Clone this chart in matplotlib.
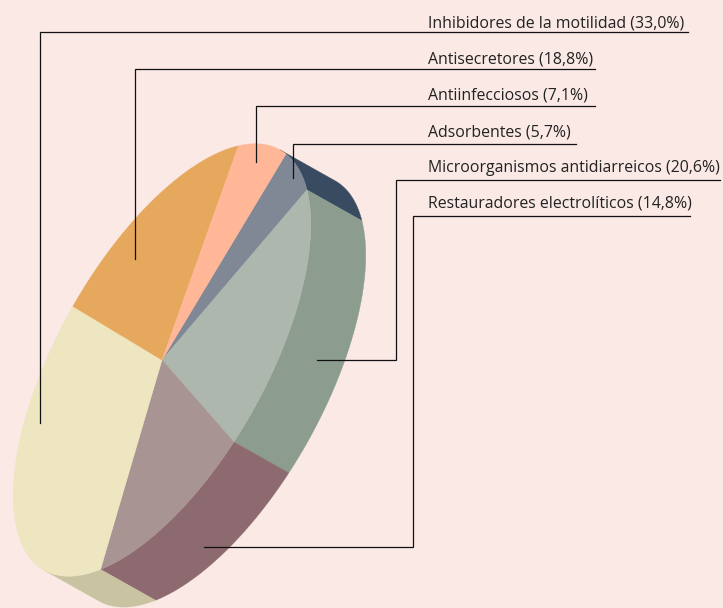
#! /usr/bin/env python3

import matplotlib
matplotlib.use('Agg')
import matplotlib.pyplot as plt
import numpy as np

# clockwise from the top of the disc
labels = ['Adsorbentes', 'Microorganismos antidiarreicos', 'Restauradores electrolíticos',
          'Inhibidores de la motilidad', 'Antisecretores', 'Antiinfecciosos']
values = [5.7, 20.6, 14.8, 33.0, 18.8, 7.1]

top_colors = ['#808896', '#adb7ae', '#a99494', '#eee5c1', '#e5a85c', '#ffb798']
side_colors = ['#384b60', '#8c9c8f', '#8c6a70', '#c9c3a1', '#e5a85c', '#ffb798']

# order of the labels from top to bottom
label_order = [3, 4, 5, 0, 1, 2]
label_base = [27.5, 63, 99, 136.5, 172, 207.5]
line_y = [32, 69, 106, 144, 180, 216]
line_end = [688, 595, 595, 576, 720, 690]
# leader: x of the vertical, y where it stops, x of the last horizontal piece
lead_x = [40, 135, 256, 293, 396, 413]
lead_y = [423, 259, 162, 178, 360, 547]
lead_tail = [None, None, None, None, 317, 204]

BG = '#fae9e5'
CENTER = np.array([162.0, 360.0])
SEMI_A = 241.0
SEMI_B = 104.0
TILT = np.radians(60.7)
U = np.array([np.cos(TILT), -np.sin(TILT)])
V = np.array([np.sin(TILT), np.cos(TILT)])
DEPTH = 63.0
START = np.radians(4.0)


def disc(theta, shift=0.0):
    theta = np.asarray(theta)[:, None]
    return CENTER + SEMI_A * np.cos(theta) * U + (SEMI_B * np.sin(theta) + shift) * V


def main():
    fig = plt.figure(figsize=(7.23, 6.08), dpi=100, facecolor=BG)
    ax = fig.add_axes([0, 0, 1, 1])
    ax.set_xlim(0, 723)
    ax.set_ylim(608, 0)
    ax.axis('off')

    edges = np.concatenate([[0], np.cumsum(values)]) / sum(values) * 2 * np.pi + START

    # side wall, only the half turned to the viewer shows
    for i in range(len(values)):
        lo = 0 if i == 0 else edges[i]
        hi = min(edges[i + 1], np.pi)
        if hi <= lo:
            continue
        t = np.linspace(lo, hi, 80)
        pts = np.vstack([disc(t), disc(t[::-1], DEPTH)])
        ax.fill(pts[:, 0], pts[:, 1], color=side_colors[i], lw=0.3, zorder=2)

    for i in range(len(values)):
        t = np.linspace(edges[i], edges[i + 1], 120)
        pts = np.vstack([CENTER, disc(t)])
        ax.fill(pts[:, 0], pts[:, 1], color=top_colors[i], lw=0.3, zorder=3)

    for n, i in enumerate(label_order):
        text = '%s (%s%%)' % (labels[i], ('%.1f' % values[i]).replace('.', ','))
        ax.text(428, label_base[n], text, fontsize=11.4, family='Open Sans',
                color='#222222', va='baseline', ha='left', zorder=5)
        xs = [line_end[n], lead_x[n], lead_x[n]]
        ys = [line_y[n], line_y[n], lead_y[n]]
        if lead_tail[n] is not None:
            xs.append(lead_tail[n])
            ys.append(lead_y[n])
        ax.plot(xs, ys, color='#111111', lw=0.9, solid_joinstyle='miter', zorder=4)

    fig.savefig('out.png', dpi=100, facecolor=BG)


if __name__ == '__main__':
    main()
